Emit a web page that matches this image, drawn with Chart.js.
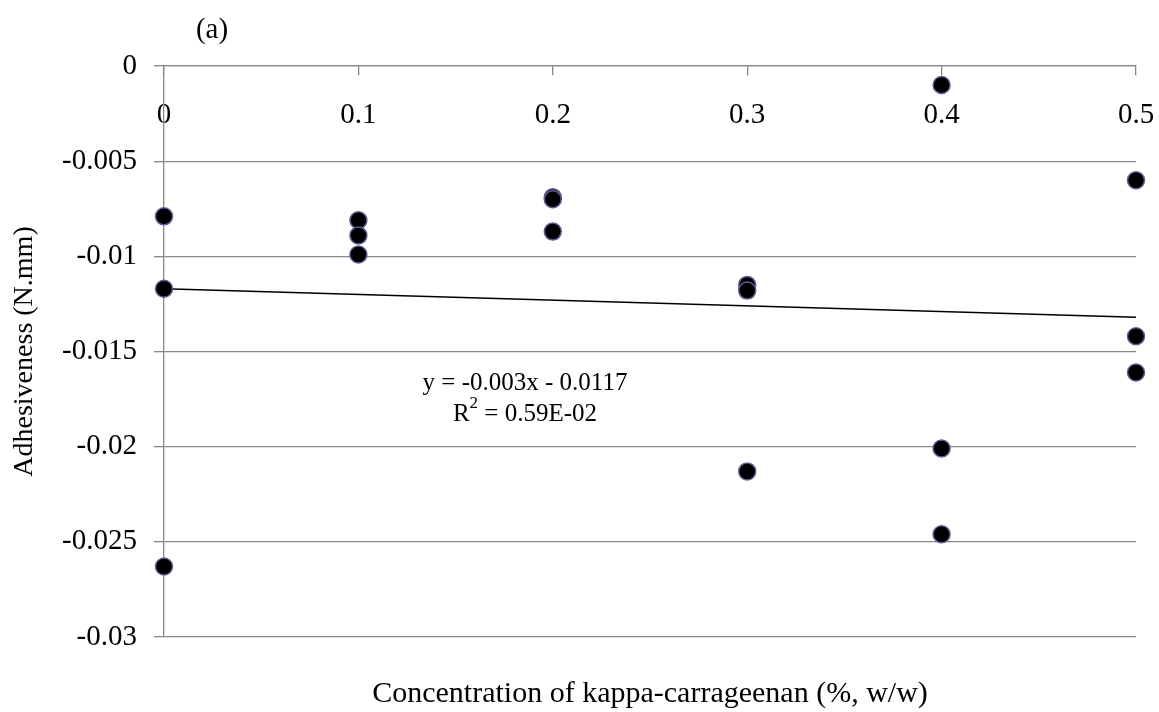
<!DOCTYPE html>
<html>
<head>
<meta charset="utf-8">
<script src="https://cdn.jsdelivr.net/npm/chart.js@4/dist/chart.umd.min.js"></script>
<style>
  html, body { margin: 0; padding: 0; background: #fff; }
  #wrap { width: 1159px; height: 712px; }
</style>
</head>
<body>
<div id="wrap"><canvas id="chart" width="1159" height="712"></canvas></div>
<script>
// データ (読み取り値)
const concentration = [0, 0, 0, 0.1, 0.1, 0.1, 0.2, 0.2, 0.2, 0.3, 0.3, 0.3, 0.4, 0.4, 0.4, 0.5, 0.5, 0.5];
const adhesiveness = [-0.0079, -0.0117, -0.0263, -0.0081, -0.0089, -0.0099, -0.0069, -0.0070, -0.0087,
                      -0.0115, -0.0118, -0.0213, -0.0010, -0.0201, -0.0246, -0.0060, -0.0142, -0.0161];
// 近似直線の端点
const trendX = [0, 0.5];
const trendY = [-0.0117, -0.0132];
// 目盛り
const xTickValues = [0, 0.1, 0.2, 0.3, 0.4, 0.5];
const xTickLabels = ['0', '0.1', '0.2', '0.3', '0.4', '0.5'];
const yTickValues = [0, -0.005, -0.01, -0.015, -0.02, -0.025, -0.03];
const yTickLabels = ['0', '-0.005', '-0.01', '-0.015', '-0.02', '-0.025', '-0.03'];
const panelLabel = '(a)';
const equationText = 'y = -0.003x - 0.0117';
const r2Value = ' = 0.59E-02';

const serif = "'Liberation Serif', 'Times New Roman', serif";
const gridColor = '#888888';

// 注釈テキストを描くプラグイン
const textPlugin = {
    id: 'textPlugin',
    afterDraw(chart) {
        const ctx = chart.ctx;
        ctx.save();
        ctx.fillStyle = '#000';
        ctx.textBaseline = 'middle';
        ctx.textAlign = 'center';
        ctx.font = '29px ' + serif;
        ctx.fillText(panelLabel, 212, 30);

        ctx.font = '25px ' + serif;
        ctx.fillText(equationText, 525, 383);

        // R^2
        const big = '25px ' + serif, small = '17px ' + serif;
        ctx.font = big;
        const wR = ctx.measureText('R').width;
        const wRest = ctx.measureText(r2Value).width;
        ctx.font = small;
        const w2 = ctx.measureText('2').width;
        let x = 525 - (wR + w2 + wRest) / 2;
        ctx.textAlign = 'left';
        ctx.font = big;
        ctx.fillText('R', x, 414);
        ctx.font = small;
        ctx.fillText('2', x + wR, 404);
        ctx.font = big;
        ctx.fillText(r2Value, x + wR + w2, 414);
        ctx.restore();
    }
};

const points = concentration.map((c, i) => ({ x: c, y: adhesiveness[i] }));
const trend = trendX.map((c, i) => ({ x: c, y: trendY[i] }));

new Chart(document.getElementById('chart'), {
    type: 'scatter',
    data: {
        datasets: [
            {
                data: points,
                backgroundColor: '#000',
                borderColor: '#5e5e96',
                borderWidth: 1.5,
                pointRadius: 8.5,
                clip: false
            },
            {
                type: 'line',
                data: trend,
                borderColor: '#000',
                borderWidth: 1.5,
                pointRadius: 0,
                fill: false,
                clip: false
            }
        ]
    },
    options: {
        responsive: false,
        animation: false,
        devicePixelRatio: 1,
        layout: { padding: { left: 0, right: 23, top: 66, bottom: 0 } },
        plugins: { legend: { display: false }, tooltip: { enabled: false } },
        scales: {
            x: {
                type: 'linear',
                position: 'bottom',
                min: 0, max: 0.5,
                ticks: { display: false },
                grid: { display: false },
                border: { display: false },
                title: {
                    display: true,
                    text: 'Concentration of kappa-carrageenan (%, w/w)',
                    color: '#000',
                    font: { family: serif, size: 30 },
                    padding: { top: 0, bottom: 0 }
                },
                afterFit(s) { s.height = 75; s.paddingLeft = 0; s.paddingRight = 0; }
            },
            x2: {
                type: 'linear',
                position: { y: 0 },
                min: 0, max: 0.5,
                afterBuildTicks(s) { s.ticks = xTickValues.map(v => ({ value: v })); },
                ticks: {
                    color: '#000',
                    font: { family: serif, size: 29 },
                    padding: 23,
                    maxRotation: 0,
                    callback: (v, i) => xTickLabels[i]
                },
                grid: { display: true, drawOnChartArea: false, drawTicks: true, tickLength: 9, color: gridColor, lineWidth: 1.3 },
                border: { display: true, color: gridColor, width: 1.3 },
                afterFit(s) { s.height = 0; s.paddingLeft = 0; s.paddingRight = 0; }
            },
            y: {
                type: 'linear',
                position: 'left',
                min: -0.03, max: 0,
                afterBuildTicks(s) { s.ticks = yTickValues.map(v => ({ value: v })); },
                ticks: {
                    color: '#000',
                    font: { family: serif, size: 29 },
                    padding: 17,
                    callback: (v, i) => yTickLabels[i]
                },
                grid: { color: gridColor, lineWidth: 1.3, tickLength: 10 },
                border: { display: true, color: gridColor, width: 1.3 },
                title: {
                    display: true,
                    text: 'Adhesiveness (N.mm)',
                    color: '#000',
                    font: { family: serif, size: 28 },
                    padding: { top: 8, bottom: 0 }
                },
                afterFit(s) { s.width = 164; s.paddingTop = 0; s.paddingBottom = 0; }
            }
        }
    },
    plugins: [textPlugin]
});
</script>
</body>
</html>
